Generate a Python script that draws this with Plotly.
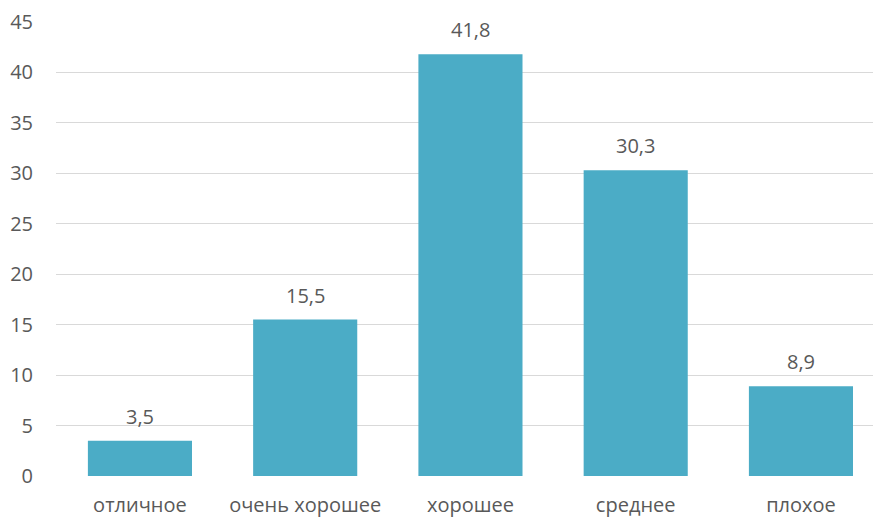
import plotly.graph_objects as go

categories = ["отличное", "очень хорошее", "хорошее", "среднее", "плохое"]
values = [3.5, 15.5, 41.8, 30.3, 8.9]
y_ticks = [0, 5, 10, 15, 20, 25, 30, 35, 40, 45]

font_color = "#595959"
fsize = 20

fig = go.Figure(go.Bar(
    x=categories, y=values, width=0.63,
    marker=dict(color="#4BACC6", line=dict(width=0)),
    hoverinfo="skip",
))

for c, v in zip(categories, values):
    fig.add_annotation(x=c, y=v, text=f"{v:.1f}".replace(".", ","),
                       showarrow=False, yanchor="bottom", yshift=9,
                       font=dict(size=fsize, color=font_color, family="Open Sans"))

fig.update_layout(
    width=873, height=517,
    margin=dict(l=56, r=0, t=22, b=41, autoexpand=False),
    paper_bgcolor="white", plot_bgcolor="white",
    separators=", ",
    showlegend=False,
    font=dict(family="Open Sans", size=fsize, color=font_color),
)
fig.update_xaxes(
    range=[-0.508, 4.436], showgrid=False, zeroline=False, showline=False,
    automargin=False,
    ticks="outside", ticklen=11, tickcolor="white",
    tickfont=dict(size=fsize, color=font_color),
)
fig.update_yaxes(
    range=[0, 45], tickvals=y_ticks, showgrid=True, gridcolor="#D9D9D9",
    gridwidth=1, zeroline=False, showline=False, automargin=False,
    ticks="outside", ticklen=18, tickcolor="white",
    tickfont=dict(size=fsize, color=font_color),
)

fig.write_html(
    "out.html",
    config={"displayModeBar": False},
    post_script="document.body.style.margin='0';document.body.style.overflow='hidden';",
)
